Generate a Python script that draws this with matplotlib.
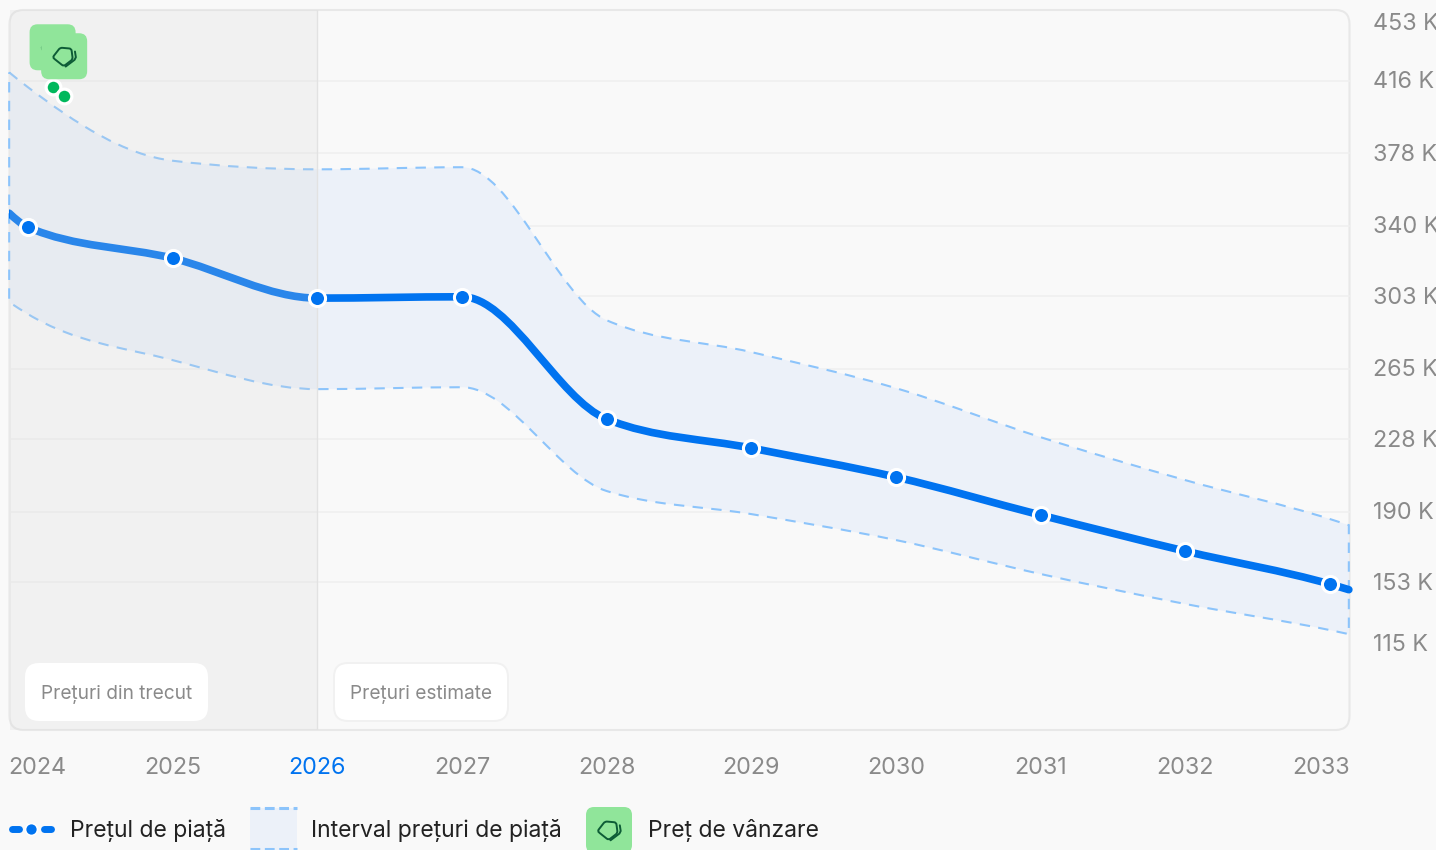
import numpy as np
import matplotlib
matplotlib.use('Agg')
import matplotlib.pyplot as plt
from matplotlib.patches import FancyBboxPatch, PathPatch, Rectangle
from matplotlib.path import Path
from matplotlib.transforms import ScaledTranslation

plt.rcParams['font.family'] = ['Inter', 'DejaVu Sans']

# years at the left/right panel edge, then the yearly points
years = [2023.87, 2024, 2025, 2026, 2027, 2028, 2029, 2030, 2031, 2032, 2033, 2033.13]
market = [346.5, 339.1, 322.9, 302.0, 302.7, 238.6, 223.4, 208.2, 188.3, 169.4, 152.1, 149.2]
upper = [420.3, 412.5, 374.0, 369.5, 370.6, 290.4, 273.7, 254.8, 229.1, 206.6, 186.2, 183.0]
lower = [299.9, 293.6, 269.5, 254.3, 255.3, 200.9, 188.8, 175.2, 157.4, 141.7, 128.0, 125.9]
sale_years = [2024.17, 2024.25]
sale_prices = [412.5, 407.8]

grid_ticks = [416, 378, 340, 303, 265, 228, 190, 153]
y_ticks = [453] + grid_ticks + [115]
y_labels = [f'{v} K' for v in y_ticks]
x_ticks = [2024, 2025, 2026, 2027, 2028, 2029, 2030, 2031, 2032, 2033]
current_year = 2026

BG = '#f9f9f9'
BLUE = '#0073f0'
DASH = '#8cc4fb'
BAND = '#ecf1f9'
GREY = '#8a8a8a'
TAG = '#90e59a'
ICON = '#0d5c36'
W, H = 1436, 850


def px_axes(z):
    a = fig.add_axes([0, 0, 1, 1], zorder=z)
    a.set_xlim(0, W)
    a.set_ylim(H, 0)
    a.axis('off')
    return a


def shift(label, dx, dy):
    # move a tick label by some pixels, dy upwards
    label.set_transform(label.get_transform() + ScaledTranslation(dx / 100, dy / 100, fig.dpi_scale_trans))


def monotone_path(xs, ys):
    # cubic bezier segments with monotone tangents
    xs = np.array(xs, float)
    ys = np.array(ys, float)
    h = np.diff(xs)
    s = np.diff(ys) / h
    t = np.zeros(len(xs))
    for i in range(1, len(xs) - 1):
        p = (s[i - 1] * h[i] + s[i] * h[i - 1]) / (h[i - 1] + h[i])
        t[i] = (np.sign(s[i - 1]) + np.sign(s[i])) * min(abs(s[i - 1]), abs(s[i]), 0.5 * abs(p))
    t[0] = (3 * s[0] - t[1]) / 2
    t[-1] = (3 * s[-1] - t[-2]) / 2
    verts = [(xs[0], ys[0])]
    codes = [Path.MOVETO]
    for i in range(len(h)):
        d = h[i] / 3
        verts += [(xs[i] + d, ys[i] + d * t[i]), (xs[i + 1] - d, ys[i + 1] - d * t[i + 1]), (xs[i + 1], ys[i + 1])]
        codes += [Path.CURVE4] * 3
    return Path(verts, codes)


def band_path(xs, hi, lo):
    a = monotone_path(xs, hi)
    b = monotone_path(xs[::-1], lo[::-1])
    verts = list(a.vertices) + list(b.vertices) + [a.vertices[0]]
    codes = list(a.codes) + [Path.LINETO] + list(b.codes[1:]) + [Path.CLOSEPOLY]
    return Path(verts, codes)


def rounded(points, r):
    # closed polygon with rounded corners
    pts = np.array(points, float)
    n = len(pts)
    verts, codes = [], []
    for i in range(n):
        p, prev, nxt = pts[i], pts[i - 1], pts[(i + 1) % n]
        a = p + (prev - p) / np.linalg.norm(prev - p) * r
        b = p + (nxt - p) / np.linalg.norm(nxt - p) * r
        verts += [a, p, b]
        codes += [Path.MOVETO if i == 0 else Path.LINETO, Path.CURVE3, Path.CURVE3]
    verts.append(verts[0])
    codes.append(Path.LINETO)
    return Path(verts, codes)


def tag(a, cx, cy, z):
    a.add_patch(FancyBboxPatch((cx - 18, cy - 18), 36, 36, boxstyle='round,pad=5,rounding_size=8',
                               fc=TAG, ec='none', zorder=z))
    icon = [(-11.6, 1.2), (-4, -8.6), (7.2, -7.6), (8.6, 3), (-0.5, 10)]
    a.add_patch(PathPatch(rounded([(cx + p[0], cy + p[1]) for p in icon], 2.2), fc='none', ec=ICON,
                          lw=1.4, zorder=z + 0.1))
    a.plot([cx + 10.8, cx + 11.7, cx + 10.4, cx + 1.5], [cy - 4.7, cy + 1, cy + 3.6, cy + 10.3], color=ICON, lw=1.4,
           solid_capstyle='round', zorder=z + 0.1)


fig = plt.figure(figsize=(W / 100, H / 100), dpi=100, facecolor=BG)

back = px_axes(0)
back.add_patch(FancyBboxPatch((23.5, 24), 1312, 692, boxstyle='round,pad=14,rounding_size=14',
                              fc=BG, ec='#e8e8e8', lw=1.5))

# data axes fill the panel: 144.67 px per year, 1.909 px per K
ax = fig.add_axes([9.5 / W, 1 - 730 / H, 1340 / W, 720 / H], zorder=1)
ax.patch.set_visible(False)
ax.set_xlim(2024 + (9.5 - 28) / 144.67, 2024 + (1349.5 - 28) / 144.67)
ax.set_ylim(303 - (730 - 296) / 1.909, 303 + (296 - 10) / 1.909)
for sp in ax.spines.values():
    sp.set_visible(False)

ax.hlines(grid_ticks, ax.get_xlim()[0], ax.get_xlim()[1], color='#efefef', lw=1.1, zorder=1)

bp = band_path(years, upper, lower)
ax.add_patch(PathPatch(bp, fc=BAND, ec='none', zorder=1.2))
ax.add_patch(PathPatch(bp, fc='none', ec=DASH, lw=1.5, ls=(0, (5, 4)), zorder=1.5, clip_on=False))

line = PathPatch(monotone_path(years, market), fc='none', ec=BLUE, lw=5.5, capstyle='round', zorder=2)
ax.add_patch(line)

# past prices are veiled, the line included
ax.axvspan(ax.get_xlim()[0], current_year, color='#d4d4d4', alpha=0.2, lw=0, zorder=3)
ax.axvline(current_year, color='#e2e2e2', lw=1, zorder=3)

ax.plot(years[1:-1], market[1:-1], ls='none', marker='o', ms=11.6, mfc=BLUE, mec='white', mew=2.2, zorder=4)
ax.plot(sale_years, sale_prices, ls='none', marker='o', ms=10.6, mfc='#00b85c', mec='white', mew=2.3,
        zorder=5, clip_on=False)

ax.set_xticks(x_ticks)
ax.set_xticklabels([str(y) for y in x_ticks], fontsize=16.8, color=GREY)
ax.tick_params(axis='x', length=0, pad=19.5)
labs = ax.get_xticklabels()
labs[0].set_ha('left')
labs[-1].set_ha('right')
shift(labs[0], -19.5, 0)
shift(labs[-1], 20, 0)
labs[x_ticks.index(current_year)].set_color(BLUE)

ax.yaxis.tick_right()
ax.set_yticks(y_ticks)
ax.set_yticklabels(y_labels, fontsize=16.8, color=GREY)
ax.tick_params(axis='y', length=0, pad=17)
ylabs = ax.get_yticklabels()
ylabs[0].set_va('top')
ylabs[-1].set_va('baseline')
shift(ylabs[0], 0, -3)
shift(ylabs[-1], 0, 4)
for lb in ylabs[1:-1]:
    shift(lb, 0, 1)

front = px_axes(2)

# the line stops at the left edge of the panel but may overshoot the right one
edge = Rectangle((9, 0), 1350, H, transform=front.transData)
line.set_clip_path(edge)

# period labels
front.add_patch(FancyBboxPatch((39, 677), 155, 30, boxstyle='round,pad=14,rounding_size=14',
                               fc='white', ec='none', zorder=2))
front.add_patch(FancyBboxPatch((348, 677), 146, 30, boxstyle='round,pad=14,rounding_size=14',
                               fc='white', ec='#f1f1f1', lw=1.4, zorder=2))
front.text(41, 694, 'Prețuri din trecut', fontsize=13.75, color=GREY, va='center', zorder=3)
front.text(350, 694, 'Prețuri estimate', fontsize=13.75, color=GREY, va='center', zorder=3)

# sale price tags sit 40 px above their dots
for i, (yr, pr) in enumerate(zip(sale_years, sale_prices)):
    cx, cy = front.transData.inverted().transform(ax.transData.transform((yr, pr)))
    tag(front, cx, cy - 40, 4 + i)

# legend
front.plot([11.5, 18.5], [829, 829], color=BLUE, lw=5, solid_capstyle='round', zorder=2)
front.plot([43.5, 50.5], [829, 829], color=BLUE, lw=5, solid_capstyle='round', zorder=2)
front.plot([31], [829], marker='o', ms=8.6, mfc=BLUE, mec='white', mew=1.2, zorder=3)
front.text(70, 831, 'Prețul de piață', fontsize=16.5, color='#222222', va='center')
front.add_patch(Rectangle((250, 808), 47, 42, fc=BAND, ec='none', zorder=1))
front.plot([250, 297], [808, 808], color=DASH, lw=2.2, ls=(0, (3.2, 1.5)), zorder=2)
front.plot([250, 297], [849, 849], color=DASH, lw=2.2, ls=(0, (3.2, 1.5)), zorder=2)
front.text(311, 831, 'Interval prețuri de piață', fontsize=16.5, color='#222222', va='center')
tag(front, 609, 830, 2)
front.text(648, 831, 'Preț de vânzare', fontsize=16.5, color='#222222', va='center')

fig.savefig('out.png', dpi=100, facecolor=BG)
